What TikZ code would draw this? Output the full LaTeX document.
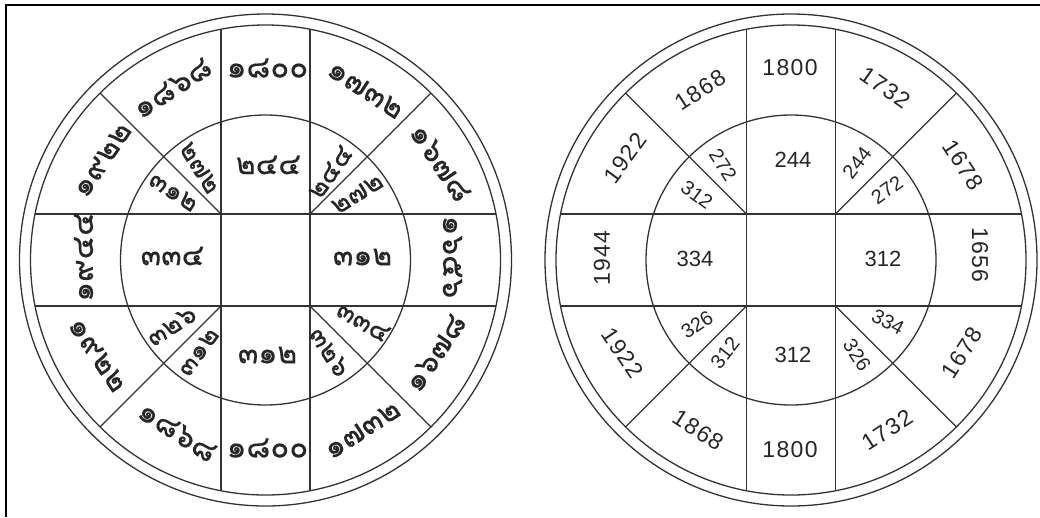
\documentclass[tikz,border=0pt]{standalone}
\usepackage{fontspec}
\setmainfont{Liberation Sans}
\newfontfamily\numfont[LetterSpace=6]{Liberation Sans}
\newfontfamily\thaifont[Script=Thai,FakeBold=0.3]{Loma}
\begin{document}
\begin{tikzpicture}[x=1pt,y=-1pt,
  ln/.style={draw=black!80,line width=1.3pt},
  framel/.style={draw=black,line width=1.4pt},
  ar/.style={inner sep=0pt,text=black!85,font=\numfont\fontsize{23}{23}\selectfont},
  ari/.style={inner sep=0pt,text=black!85,font=\fontsize{22}{22}\selectfont},
  ard/.style={inner sep=0pt,text=black!85,font=\fontsize{20}{20}\selectfont},
  th/.style={inner sep=0pt,text=black!85,font=\thaifont\fontsize{31}{31}\selectfont},
  thi/.style={inner sep=0pt,text=black!85,font=\thaifont\fontsize{30}{30}\selectfont},
  thd/.style={inner sep=0pt,text=black!85,font=\thaifont\fontsize{27}{27}\selectfont}]
\useasboundingbox (0,0) rectangle (1040,517);
\draw[framel] (1040,5) -- (6,5) -- (6,517);
% ---------- grid macro
\newcommand\wheelgrid[2]{%
 \begin{scope}[shift={(#1,#2)}]
  \draw[ln] (0,0) circle[radius=246];
  \draw[ln] (0,0) circle[radius=235];
  \draw[ln] (0,0) circle[radius=145];
  \begin{scope}
   \clip (0,0) circle[radius=235];
   \draw[ln] (-44.5,-300) -- (-44.5,300);
   \draw[ln] (44.5,-300) -- (44.5,300);
   \draw[ln] (-300,-46) -- (300,-46);
   \draw[ln] (-300,46) -- (300,46);
   \draw[ln] (-44.5,-46) -- ++(-300,-300);
   \draw[ln] (44.5,-46) -- ++(300,-300);
   \draw[ln] (-44.5,46) -- ++(-300,300);
   \draw[ln] (44.5,46) -- ++(300,300);
  \end{scope}
 \end{scope}}
\wheelgrid{265.5}{260}
\wheelgrid{791}{260}
% ---------- left wheel (Thai)
\begin{scope}[shift={(265.5,260)}]
 \node[th] (lo1) at (2,-192) {๑๘๐๐};
 \node[th,rotate=33] (lo2) at (-93,-172) {๑๘๖๘};
 \node[th,rotate=-33] (lo3) at (100,-170) {๑๗๓๒};
 \node[th,rotate=56] (lo4) at (-163,-100) {๑๙๒๒};
 \node[th,rotate=-56] (lo5) at (175,-97) {๑๖๗๘};
 \node[th,rotate=90] (lo6) at (-182,-3) {๑๙๔๔};
 \node[th,rotate=-90] (lo7) at (187,-3) {๑๖๕๖};
 \node[th,rotate=-56] (lo8) at (-168,95) {๑๙๒๒};
 \node[th,rotate=56] (lo9) at (170,93) {๑๖๗๘};
 \node[th,rotate=-33] (lo10) at (-88,172) {๑๘๖๘};
 \node[th] (lo11) at (2,188) {๑๘๐๐};
 \node[th,rotate=33] (lo12) at (97,170) {๑๗๓๒};
 \node[thi] (li1) at (3,-95) {๒๔๔};
 \node[thi] (li2) at (-93,-4) {๓๓๔};
 \node[thi] (li3) at (97,-3) {๓๑๒};
 \node[thi] (li4) at (2,95) {๓๑๒};
 \node[thd,rotate=-58] (ld1) at (-66,-92) {๒๗๒};
 \node[thd,rotate=-33] (ld2) at (-92,-68) {๓๑๒};
 \node[thd,rotate=54] (ld3) at (65,-88) {๒๔๔};
 \node[thd,rotate=32] (ld4) at (92,-66) {๒๗๒};
 \node[thd,rotate=33] (ld5) at (-94,66) {๓๒๖};
 \node[thd,rotate=54] (ld6) at (-67,92) {๓๑๒};
 \node[thd,rotate=-30] (ld7) at (98,62) {๓๓๔};
 \node[thd,rotate=-57] (ld8) at (64,92) {๓๒๖};
\end{scope}
% ---------- right wheel (Arabic numerals)
\begin{scope}[shift={(791,260)}]
 \node[ar] (ro1) at (-1,-192) {1800};
 \node[ar,rotate=33] (ro2) at (-91,-170) {1868};
 \node[ar,rotate=-35] (ro3) at (94,-172) {1732};
 \node[ar,rotate=54] (ro4) at (-166,-102) {1922};
 \node[ar,rotate=-57] (ro5) at (172,-95) {1678};
 \node[ar,rotate=90] (ro6) at (-189,-2) {1944};
 \node[ar,rotate=-90] (ro7) at (189,-5) {1656};
 \node[ar,rotate=-56] (ro8) at (-168,93) {1922};
 \node[ar,rotate=57] (ro9) at (171,93) {1678};
 \node[ar,rotate=-33] (ro10) at (-93,170) {1868};
 \node[ar] (ro11) at (-1,190) {1800};
 \node[ar,rotate=33] (ro12) at (96,170) {1732};
 \node[ari] (ri1) at (2,-100) {244};
 \node[ari] (ri2) at (-96,-1) {334};
 \node[ari] (ri3) at (92,-1) {312};
 \node[ari] (ri4) at (2,95) {312};
 \node[ard,rotate=-57] (rd1) at (-68,-95) {272};
 \node[ard,rotate=-36] (rd2) at (-94,-65) {312};
 \node[ard,rotate=52] (rd3) at (66,-97) {244};
 \node[ard,rotate=35] (rd4) at (96,-70) {272};
 \node[ard,rotate=33] (rd5) at (-94,65) {326};
 \node[ard,rotate=52] (rd6) at (-66,93) {312};
 \node[ard,rotate=-28] (rd7) at (97,62) {334};
 \node[ard,rotate=-57] (rd8) at (66,95) {326};
\end{scope}
\end{tikzpicture}
\end{document}
